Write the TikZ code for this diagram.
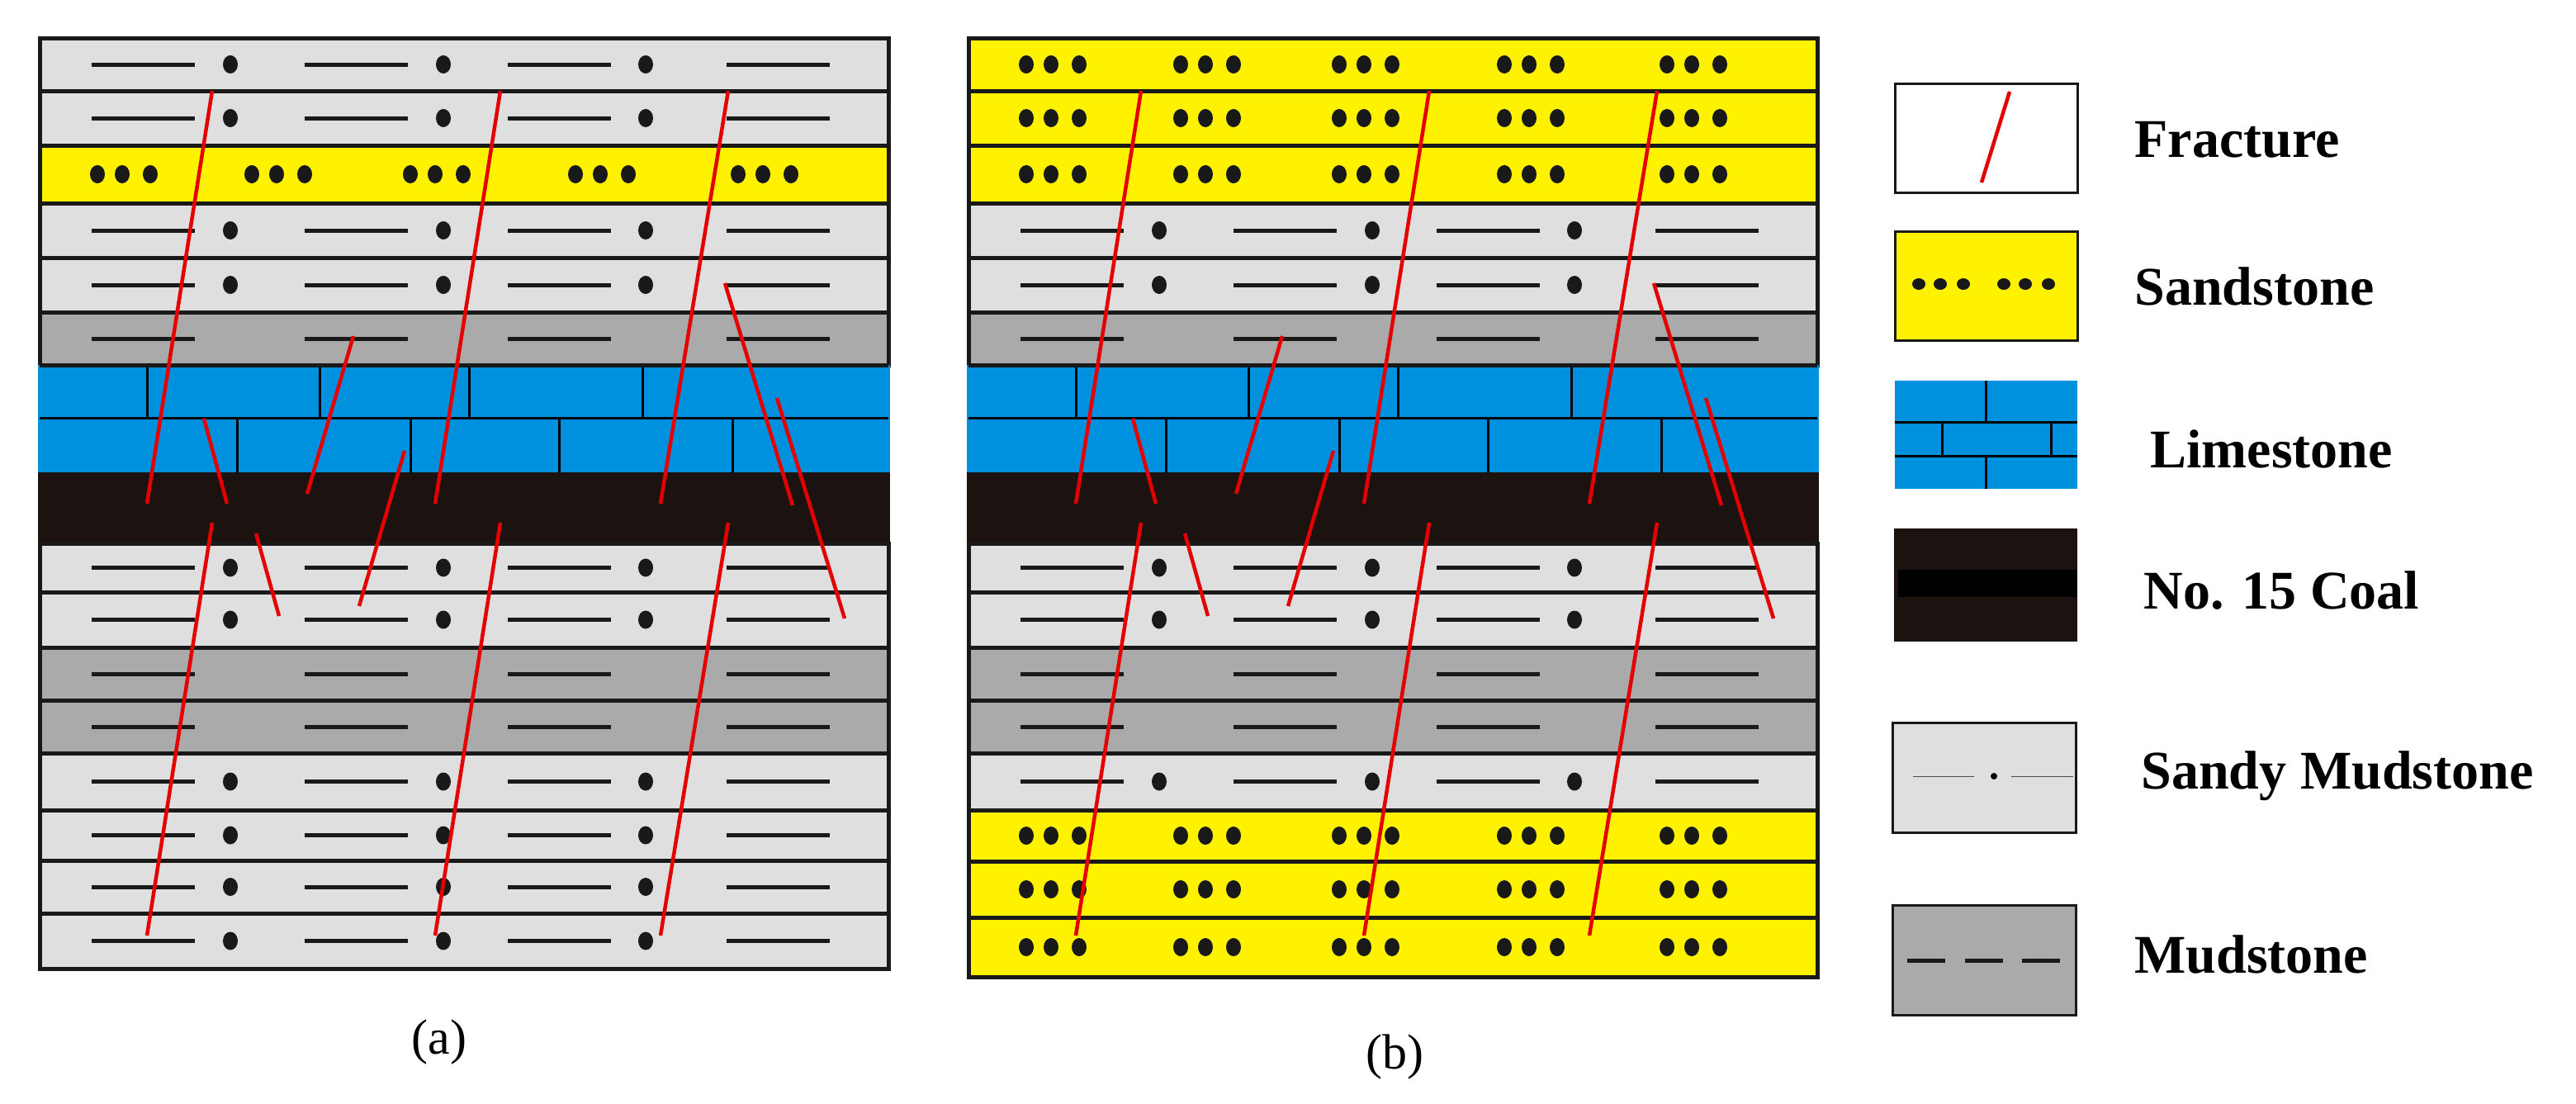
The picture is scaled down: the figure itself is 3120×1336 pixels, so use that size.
\documentclass[tikz,border=0pt]{standalone}
\usepackage{fontspec}
\setmainfont{Liberation Serif}
\begin{document}
\begin{tikzpicture}[x=1pt,y=-1pt,
  bd/.style={draw=black!90,line width=5pt},
  dsh/.style={draw=black!90,line width=5pt},
  frac/.style={draw=red!90!black,line width=4.5pt},
  legtxt/.style={anchor=west,font=\fontsize{66}{70}\selectfont\bfseries}]
\definecolor{sand}{HTML}{FFF200}
\definecolor{lgray}{HTML}{DFDFDF}
\definecolor{mgray}{HTML}{AAAAAA}
\definecolor{lime}{HTML}{0091DE}
\definecolor{coal}{HTML}{1C1210}
\fill[white] (0,0) rectangle (3120,1336);
\useasboundingbox (0,0) rectangle (3120,1336);
% mudstone row: x shift, top, bottom, fill
\newcommand{\mdrow}[4]{%
  \path[bd,fill=#4] (#1+48,#2) rectangle (#1+1076,#3);
  \foreach \a in {111,369,615,880}{\draw[dsh] (#1+\a,{(#2+#3)/2}) -- (#1+\a+125,{(#2+#3)/2});}}
\newcommand{\smrow}[3]{%
  \mdrow{#1}{#2}{#3}{lgray}
  \foreach \a in {279,537,782}{\fill[black!90] (#1+\a,{(#2+#3)/2}) ellipse (9 and 11);}}
\newcommand{\sdrow}[3]{%
  \path[bd,fill=sand] (#1+48,#2) rectangle (#1+1076,#3);
  \foreach \a in {118,305,497,697,894}{\foreach \d in {0,30,64}{\fill[black!90] (#1+\a+\d,{(#2+#3)/2}) ellipse (9 and 11);}}}
\newcommand{\limecoal}[1]{%
  \fill[lime] (#1+46,442) rectangle (#1+1078,572);
  \draw[black,line width=3pt] (#1+48,506) -- (#1+1076,506);
  \foreach \a in {178,387,568,778}{\draw[black,line width=3pt] (#1+\a,442) -- (#1+\a,506);}
  \foreach \a in {287,497,677,887}{\draw[black,line width=3pt] (#1+\a,506) -- (#1+\a,572);}
  \draw[bd] (#1+48,442) -- (#1+1076,442);
  \fill[coal] (#1+46,572) rectangle (#1+1078,658);}
\newcommand{\fractures}[1]{%
  \foreach \xa/\ya/\xb/\yb in {257/110/178/610,257/633/178/1133,606/110/527/610,606/633/527/1133,
     882/110/800/610,882/633/800/1133,247/507/275/610,310/646/338/746,428/407/372/598,
     490/546/435/734,878/343/960/612,941/482/1023/749}
   {\draw[frac] (#1+\xa,\ya) -- (#1+\xb,\yb);}}
% ---- panel (a)
\smrow{0}{46}{110}\smrow{0}{110}{176}\sdrow{0}{176}{246}\smrow{0}{246}{312}\smrow{0}{312}{378}
\mdrow{0}{378}{442}{mgray}
\limecoal{0}
\smrow{0}{658}{717}\smrow{0}{717}{784}\mdrow{0}{784}{848}{mgray}\mdrow{0}{848}{912}{mgray}
\smrow{0}{912}{981}\smrow{0}{981}{1042}\smrow{0}{1042}{1106}\smrow{0}{1106}{1173}
\fractures{0}
\node[font=\fontsize{60}{64}\selectfont] (la) at (532,1262) {(a)};
% ---- panel (b)
\sdrow{1125}{46}{110}\sdrow{1125}{110}{176}\sdrow{1125}{176}{246}\smrow{1125}{246}{312}\smrow{1125}{312}{378}
\mdrow{1125}{378}{442}{mgray}
\limecoal{1125}
\smrow{1125}{658}{717}\smrow{1125}{717}{784}\mdrow{1125}{784}{848}{mgray}\mdrow{1125}{848}{912}{mgray}
\smrow{1125}{912}{981}\sdrow{1125}{981}{1043}\sdrow{1125}{1043}{1111}\sdrow{1125}{1111}{1183}
\fractures{1125}
\node[font=\fontsize{60}{64}\selectfont] (lb) at (1689,1280) {(b)};
% ---- legend
\draw[black!90,line width=3pt,fill=white] (2295,101) rectangle (2516,233);
\draw[frac] (2434,111) -- (2400,221);
\node[legtxt] (t1) at (2582,169) {Fracture};
\draw[black!90,line width=3pt,fill=sand] (2295,280) rectangle (2516,412);
\foreach \a in {2324,2350,2378,2427,2453,2481}{\fill[black!90] (\a,344) ellipse (8 and 7);}
\node[legtxt] (t2) at (2582,347) {Sandstone};
\fill[lime] (2295,461) rectangle (2516,592);
\draw[black,line width=3pt] (2295,511) -- (2516,511) (2295,552) -- (2516,552)
  (2405,461) -- (2405,511) (2352,511) -- (2352,552) (2484,511) -- (2484,552) (2405,552) -- (2405,592);
\node[legtxt] (t3) at (2601,544) {Limestone};
\fill[coal] (2294,640) rectangle (2516,777);
\fill[black] (2299,690) rectangle (2516,723);
\node[legtxt] (t4) at (2593,715) {No. 15 Coal};
\draw[black!90,line width=3pt,fill=lgray] (2292,875) rectangle (2514,1008);
\draw[black!70,line width=1pt] (2317,940) -- (2391,940) (2436,940) -- (2511,940);
\fill[black] (2415,940) circle (4);
\node[legtxt] (t5) at (2590,940) {Sandy Mudstone};
\draw[black!90,line width=3pt,fill=mgray] (2292,1096) rectangle (2514,1229);
\foreach \a in {2310,2380,2449}{\draw[dsh] (\a,1163) -- (\a+46,1163);}
\node[legtxt] (t6) at (2582,1156) {Mudstone};
\end{tikzpicture}
\end{document}
